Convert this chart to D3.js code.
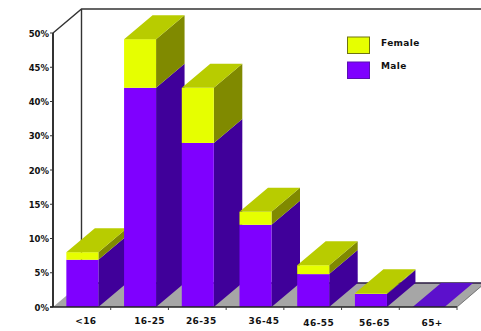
<!DOCTYPE html>
<html>
<head>
<meta charset="utf-8">
<script src="https://cdn.jsdelivr.net/npm/d3@7/dist/d3.min.js"></script>
<style>
  html, body { margin: 0; padding: 0; background: #fff; }
  svg { display: block; }
  text { font-family: "DejaVu Sans", sans-serif; font-weight: bold; fill: #111; }
</style>
</head>
<body>
<svg id="chart" width="481" height="331"></svg>
<script>
const categories = ["<16", "16-25", "26-35", "36-45", "46-55", "56-65", "65+"];
const male = [6.9, 42, 27.9, 12, 4.8, 1.9, 0];
const female = [1.1, 7.1, 14.1, 1.9, 1.3, 0.1, 0];
const tickValues = [0, 5, 10, 15, 20, 30, 40, 45, 50];
const legendLabels = ["Female", "Male"];

const colors = {
  female: { front: "#e6ff00", side: "#808a00", top: "#b8cc00" },
  male: { front: "#7f00ff", side: "#40009a", top: "#5c10cc" }
};

const svg = d3.select("#chart");
const plot = { left: 53, right: 457, top: 33, bottom: 307 };
const depth = { x: 28.5, y: -24 };

// The value axis is evenly spaced per tick, so the scale is piecewise linear.
const y = d3.scaleLinear()
  .domain(tickValues)
  .range(tickValues.map((_, i) => plot.bottom - i * (plot.bottom - plot.top) / (tickValues.length - 1)));

const x = d3.scaleBand()
  .domain(categories)
  .range([plot.left, plot.right])
  .paddingInner(0)
  .paddingOuter(0);

const barWidth = 32;
const barX = c => x(c) + (x.bandwidth() - barWidth) / 2 + 0.5;
const poly = pts => pts.map(p => p.join(",")).join(" ");

// Floor
svg.append("polygon")
  .attr("points", poly([
    [plot.left, plot.bottom], [plot.right, plot.bottom],
    [plot.right + depth.x, plot.bottom + depth.y], [plot.left + depth.x, plot.bottom + depth.y]
  ]))
  .attr("fill", "#a6a6a6");

// Back wall and left wall outlines
const frame = svg.append("g").attr("fill", "none").attr("stroke", "#333").attr("stroke-width", 1.4);
frame.append("path").attr("d", d3.line()([
  [plot.left, plot.top], [plot.left + depth.x, plot.top + depth.y], [481, plot.top + depth.y]
]));
frame.append("path").attr("d", d3.line()([
  [plot.left + depth.x, plot.top + depth.y], [plot.left + depth.x, plot.bottom + depth.y]
]));
frame.append("path").attr("stroke", "#2a1a40").attr("d", d3.line()([
  [plot.left + depth.x, plot.bottom + depth.y], [481, plot.bottom + depth.y]
]));

// One extruded box: front, side and top faces between two values
function box(g, c, v0, v1, palette, showTop) {
  const x0 = barX(c), x1 = x0 + barWidth, yb = y(v0), yt = y(v1);
  const d = depth;
  g.append("polygon").attr("fill", palette.side).attr("points", poly([
    [x1, yb], [x1 + d.x, yb + d.y], [x1 + d.x, yt + d.y], [x1, yt]
  ]));
  g.append("rect").attr("fill", palette.front)
    .attr("x", x0).attr("y", yt).attr("width", barWidth).attr("height", yb - yt);
  if (showTop) {
    g.append("polygon").attr("fill", palette.top).attr("points", poly([
      [x0, yt], [x1, yt], [x1 + d.x, yt + d.y], [x0 + d.x, yt + d.y]
    ]));
  }
}

// Bars left to right, so each one overlaps the side of its neighbour
const bars = svg.append("g");
categories.forEach((c, i) => {
  const g = bars.append("g");
  box(g, c, 0, male[i], colors.male, female[i] === 0);
  if (female[i] > 0) box(g, c, male[i], male[i] + female[i], colors.female, true);
});

// Value axis
const axisY = svg.append("g");
axisY.append("line")
  .attr("x1", plot.left).attr("x2", plot.left)
  .attr("y1", plot.top).attr("y2", plot.bottom)
  .attr("stroke", "#333").attr("stroke-width", 2);
tickValues.forEach(t => {
  axisY.append("line")
    .attr("x1", plot.left - 3).attr("x2", plot.left)
    .attr("y1", y(t)).attr("y2", y(t))
    .attr("stroke", "#333");
  axisY.append("text")
    .attr("x", plot.left - 4).attr("y", y(t) + 1)
    .attr("text-anchor", "end").attr("dominant-baseline", "middle")
    .attr("font-size", 8.5)
    .text(t + "%");
});

// Category axis
const axisX = svg.append("g");
axisX.append("line")
  .attr("x1", plot.left - 3).attr("x2", plot.right)
  .attr("y1", plot.bottom).attr("y2", plot.bottom)
  .attr("stroke", "#222").attr("stroke-width", 1.5);
categories.forEach(c => {
  axisX.append("line")
    .attr("x1", x(c) + x.bandwidth()).attr("x2", x(c) + x.bandwidth())
    .attr("y1", plot.bottom).attr("y2", plot.bottom + 3)
    .attr("stroke", "#444");
});
axisX.append("line")
  .attr("x1", plot.right).attr("y1", plot.bottom)
  .attr("x2", plot.right + depth.x - 4).attr("y2", plot.bottom + depth.y + 3)
  .attr("stroke", "#777");

// The category labels sit slightly unevenly under their bars
const labelShift = [
  [4, 0], [10, 0], [4, 0], [9, 0], [6, 2], [4, 2], [4, 2]
];
categories.forEach((c, i) => {
  axisX.append("text")
    .attr("x", x(c) + x.bandwidth() / 2 + labelShift[i][0])
    .attr("y", 321 + labelShift[i][1])
    .attr("text-anchor", "middle").attr("dominant-baseline", "middle")
    .attr("font-size", 9)
    .attr("letter-spacing", 0.4)
    .text(c);
});

// Legend
const legend = svg.append("g");
const legendPalette = [colors.female.front, colors.male.front];
const legendBorder = ["#6f7410", "#5a10b0"];
legendLabels.forEach((label, i) => {
  const top = 37 + i * 25;
  legend.append("rect")
    .attr("x", 347.5).attr("y", top).attr("width", 22).attr("height", 16.5)
    .attr("fill", legendPalette[i]).attr("stroke", legendBorder[i]);
  legend.append("text")
    .attr("x", 381).attr("y", 43.5 + i * 23)
    .attr("dominant-baseline", "middle")
    .attr("font-size", 9)
    .attr("letter-spacing", 0.35)
    .text(label);
});
</script>
</body>
</html>
